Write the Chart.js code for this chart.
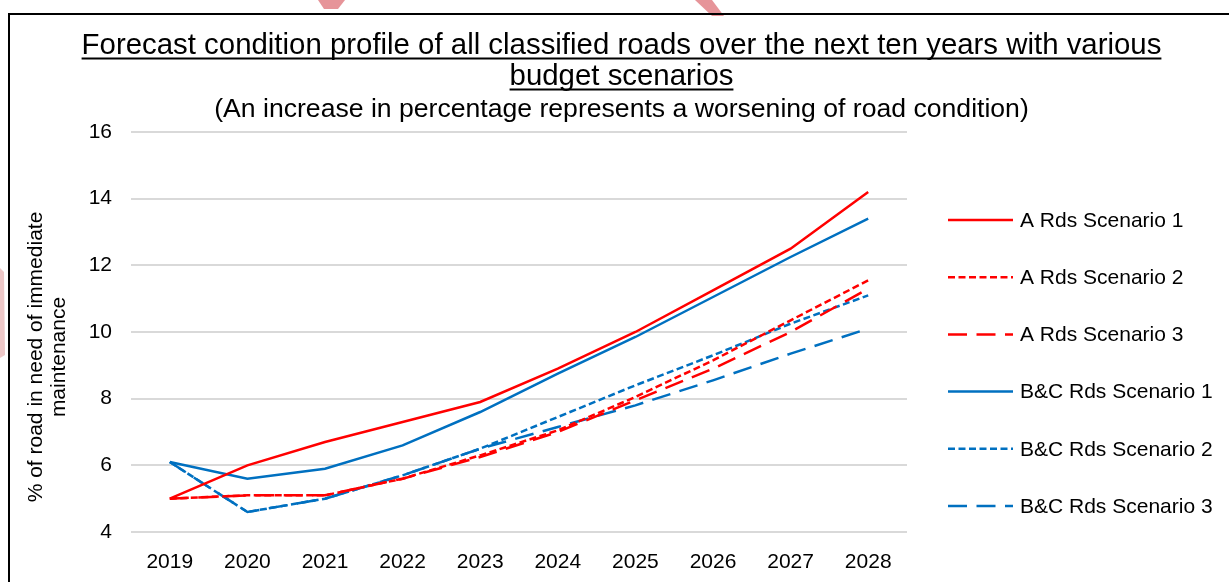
<!DOCTYPE html>
<html>
<head>
<meta charset="utf-8">
<script src="https://cdn.jsdelivr.net/npm/chart.js@4"></script>
<style>
html,body{margin:0;padding:0;background:#fff;}
canvas{display:block;}
</style>
</head>
<body>
<canvas id="c" width="1229" height="582"></canvas>
<script>
// ---- data ----
const years = ['2019','2020','2021','2022','2023','2024','2025','2026','2027','2028'];
const aRdsScenario1 = [5.0, 6.0, 6.7, 7.3, 7.9, 8.9, 10.0, 11.25, 12.5, 14.2];
const aRdsScenario2 = [5.0, 5.1, 5.1, 5.6, 6.3, 7.05, 8.05, 9.15, 10.35, 11.55];
const aRdsScenario3 = [5.0, 5.1, 5.1, 5.6, 6.25, 7.0, 7.95, 8.9, 10.0, 11.3];
const bcRdsScenario1 = [6.1, 5.6, 5.9, 6.6, 7.6, 8.75, 9.85, 11.05, 12.25, 13.4];
const bcRdsScenario2 = [6.1, 4.6, 5.0, 5.7, 6.5, 7.45, 8.4, 9.3, 10.25, 11.1];
const bcRdsScenario3 = [6.1, 4.6, 5.0, 5.7, 6.5, 7.15, 7.8, 8.55, 9.35, 10.1];
const seriesNames = ['A Rds Scenario 1','A Rds Scenario 2','A Rds Scenario 3','B&C Rds Scenario 1','B&C Rds Scenario 2','B&C Rds Scenario 3'];
const yTicks = [4, 6, 8, 10, 12, 14, 16];
const titleLines = ['Forecast condition profile of all classified roads over the next ten years with various', 'budget scenarios'];
const subtitleText = '(An increase in percentage represents a worsening of road condition)';
const yTitleLines = ['% of road in need of immediate', 'maintenance'];

const FONT = '"Liberation Sans", Arial, sans-serif';
const RED = '#ff0000', BLUE = '#0070c0';
const SHORT = [7, 3.5], LONG = [19, 9.5];

function ds(label, data, color, dash) {
  return {label, data, borderColor: color, backgroundColor: color, borderWidth: 2.5,
    borderDash: dash, pointRadius: 0, pointHoverRadius: 0, tension: 0, fill: false};
}

const datasets = [
  ds(seriesNames[0], aRdsScenario1, RED, []),
  ds(seriesNames[1], aRdsScenario2, RED, SHORT),
  ds(seriesNames[2], aRdsScenario3, RED, LONG),
  ds(seriesNames[3], bcRdsScenario1, BLUE, []),
  ds(seriesNames[4], bcRdsScenario2, BLUE, SHORT),
  ds(seriesNames[5], bcRdsScenario3, BLUE, LONG)
];

const deco = {
  id: 'deco',
  beforeDraw(chart) {
    const ctx = chart.ctx;
    ctx.save();
    ctx.fillStyle = '#fff';
    ctx.fillRect(0, 0, chart.width, chart.height);
    // faint watermark fragments around the frame
    ctx.fillStyle = 'rgba(215,130,130,0.45)';
    ctx.beginPath();
    ctx.moveTo(0, 268); ctx.lineTo(4, 272); ctx.lineTo(5, 355); ctx.lineTo(0, 358); ctx.closePath();
    ctx.fill();
    ctx.fillStyle = 'rgba(210,60,70,0.55)';
    ctx.beginPath();
    ctx.moveTo(318, 0); ctx.lineTo(345, 0); ctx.lineTo(338, 9); ctx.lineTo(324, 9); ctx.closePath();
    ctx.fill();
    ctx.beginPath();
    ctx.moveTo(695, 0); ctx.lineTo(712, 0); ctx.lineTo(724, 16); ctx.lineTo(712, 16); ctx.closePath();
    ctx.fill();
    ctx.strokeStyle = '#000';
    ctx.lineWidth = 2;
    ctx.strokeRect(9, 14, 1400, 800);
    ctx.restore();
  },
  afterDraw(chart) {
    const ctx = chart.ctx;
    ctx.save();
    ctx.fillStyle = '#000';
    ctx.textAlign = 'center';
    ctx.textBaseline = 'alphabetic';
    // title (underlined)
    ctx.font = '29.4px ' + FONT;
    const cx = 621.5;
    const baselines = [54, 85];
    titleLines.forEach((t, i) => {
      ctx.fillText(t, cx, baselines[i]);
      const w = ctx.measureText(t).width;
      ctx.fillRect(cx - w / 2, baselines[i] + 3.5, w, 2);
    });
    // subtitle
    ctx.font = '26.6px ' + FONT;
    ctx.fillText(subtitleText, cx, 117);
    // y-axis title
    ctx.font = '21px ' + FONT;
    const yb = [42, 65];
    yTitleLines.forEach((t, i) => {
      ctx.save();
      ctx.translate(yb[i], 357);
      ctx.rotate(-Math.PI / 2);
      ctx.fillText(t, 0, 0);
      ctx.restore();
    });
    // legend
    ctx.textAlign = 'left';
    ctx.textBaseline = 'middle';
    ctx.font = '21px ' + FONT;
    chart.data.datasets.forEach((d, i) => {
      const y = 220 + i * 57.2;
      ctx.save();
      ctx.strokeStyle = d.borderColor;
      ctx.lineWidth = d.borderWidth;
      ctx.setLineDash(d.borderDash || []);
      ctx.beginPath();
      ctx.moveTo(948, y);
      ctx.lineTo(1013, y);
      ctx.stroke();
      ctx.restore();
      ctx.fillStyle = '#000';
      ctx.fillText(d.label, 1020, y + 1);
    });
    ctx.restore();
  }
};

new Chart(document.getElementById('c'), {
  type: 'line',
  data: {labels: years, datasets},
  options: {
    responsive: false,
    devicePixelRatio: 1,
    animation: false,
    layout: {padding: {top: 132, right: 322, bottom: 0, left: 0}},
    plugins: {legend: {display: false}, title: {display: false}, tooltip: {enabled: false}},
    scales: {
      x: {
        offset: true,
        grid: {display: false, drawTicks: false},
        border: {display: false},
        ticks: {font: {family: FONT, size: 21}, color: '#000', padding: 18, maxRotation: 0, autoSkip: false},
        afterFit(s) { s.height = 50; }
      },
      y: {
        min: 4, max: 16,
        afterBuildTicks(s) { s.ticks = yTicks.map(v => ({value: v})); },
        grid: {color: '#d9d9d9', lineWidth: 2, drawTicks: false},
        border: {display: false},
        ticks: {font: {family: FONT, size: 21}, color: '#000', padding: 19},
        afterFit(s) { s.width = 131; }
      }
    }
  },
  plugins: [deco]
});
</script>
</body>
</html>
